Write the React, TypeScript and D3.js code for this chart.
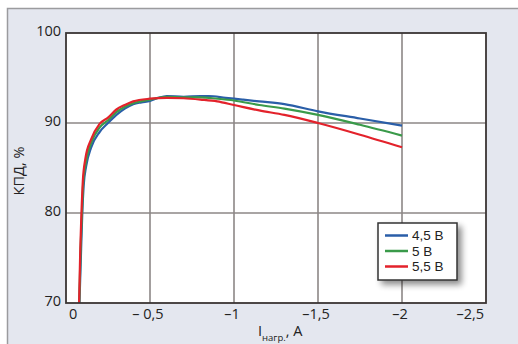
import { useMemo } from "react";
import * as d3 from "d3";

type Pt = [number, number];

// КПД vs load current (current as magnitude, A)
const curve45: Pt[] = [
  [0.08, 70], [0.09, 76], [0.097, 80], [0.105, 83], [0.12, 85.2], [0.15, 87.3],
  [0.2, 89.0], [0.25, 90.0], [0.3, 90.9], [0.35, 91.6], [0.4, 92.1], [0.45, 92.3],
  [0.5, 92.45], [0.55, 92.8], [0.6, 93.0], [0.7, 92.9], [0.8, 93.0], [0.85, 93.0],
  [0.95, 92.8], [1.05, 92.6], [1.15, 92.4], [1.3, 92.1], [1.5, 91.3], [1.75, 90.5],
  [2.0, 89.7],
];
const curve5: Pt[] = [
  [0.079, 70], [0.087, 76], [0.095, 80], [0.102, 83.2], [0.118, 85.6], [0.15, 87.8],
  [0.2, 89.5], [0.25, 90.3], [0.3, 91.2], [0.35, 91.8], [0.4, 92.2], [0.5, 92.6],
  [0.6, 92.9], [0.7, 92.85], [0.8, 92.85], [0.9, 92.7], [1.0, 92.5], [1.15, 92.0],
  [1.3, 91.6], [1.5, 90.9], [1.75, 89.8], [2.0, 88.6],
];
const curve55: Pt[] = [
  [0.078, 70], [0.085, 76], [0.092, 80], [0.1, 83.5], [0.115, 86], [0.15, 88.2],
  [0.2, 89.9], [0.25, 90.6], [0.3, 91.5], [0.35, 92.0], [0.4, 92.4], [0.5, 92.7],
  [0.6, 92.8], [0.7, 92.75], [0.8, 92.6], [0.9, 92.4], [1.0, 92.0], [1.15, 91.4],
  [1.3, 90.9], [1.5, 90.0], [1.75, 88.7], [2.0, 87.3],
];

const series = [
  { label: "4,5 В", color: "#2a5ea8", data: curve45 },
  { label: "5 В", color: "#3a9a4a", data: curve5 },
  { label: "5,5 В", color: "#e3222b", data: curve55 },
];

const xTickValues = [0, 0.5, 1, 1.5, 2, 2.5];
const xTickLabels = ["0", "– 0,5", "–1", "–1,5", "–2", "–2,5"];
const yTickValues = [70, 80, 90, 100];

const FONT = "'Open Sans', sans-serif";
const LEGEND_FONT = "'Liberation Sans', Arial, sans-serif";

export default function App() {
  const width = 518;
  const height = 344;
  const margin = { top: 33, right: 32, bottom: 41, left: 66 };
  const innerWidth = width - margin.left - margin.right;
  const innerHeight = height - margin.top - margin.bottom;

  const xScale = useMemo(
    () => d3.scaleLinear().domain([0, 2.5]).range([0, innerWidth]),
    [innerWidth]
  );
  const yScale = useMemo(
    () => d3.scaleLinear().domain([70, 100]).range([innerHeight, 0]),
    [innerHeight]
  );

  const line = d3
    .line<Pt>()
    .x((d) => xScale(d[0]))
    .y((d) => yScale(d[1]))
    .curve(d3.curveMonotoneX);

  const legend = { x: 378 - margin.left, y: 223 - margin.top, w: 79, h: 57 };

  return (
    <div style={{ position: "absolute", left: 0, top: 0 }}>
      <svg width={width} height={height} style={{ display: "block" }}>
        <defs>
          <filter id="shadow" x="-20%" y="-20%" width="150%" height="160%">
            <feGaussianBlur in="SourceAlpha" stdDeviation="3" />
            <feOffset dx="4" dy="4" result="blur" />
            <feComponentTransfer>
              <feFuncA type="linear" slope="0.45" />
            </feComponentTransfer>
            <feMerge>
              <feMergeNode />
              <feMergeNode in="SourceGraphic" />
            </feMerge>
          </filter>
        </defs>

        <rect width={width} height={height} fill="#ffffff" />
        {/* outer panel */}
        <rect
          x={7.5}
          y={8.5}
          width={width + 10}
          height={height + 10}
          fill="#e4e7ef"
          stroke="#9b9b9e"
          strokeWidth={1.5}
        />

        <g transform={`translate(${margin.left}, ${margin.top})`}>
          <rect width={innerWidth} height={innerHeight} fill="#ffffff" />

          {/* grid */}
          {xTickValues.slice(1, -1).map((v) => (
            <line
              key={`gx${v}`}
              x1={xScale(v)}
              x2={xScale(v)}
              y1={0}
              y2={innerHeight}
              stroke="#8c8786"
              strokeWidth={1.6}
            />
          ))}
          {yTickValues.slice(1, -1).map((v) => (
            <line
              key={`gy${v}`}
              x1={0}
              x2={innerWidth}
              y1={yScale(v)}
              y2={yScale(v)}
              stroke="#8c8786"
              strokeWidth={1.6}
            />
          ))}

          {/* curves */}
          {series.map((s) => (
            <path
              key={s.label}
              d={line(s.data) || ""}
              fill="none"
              stroke={s.color}
              strokeWidth={2.2}
              strokeLinejoin="round"
            />
          ))}

          {/* frame */}
          <rect
            width={innerWidth}
            height={innerHeight}
            fill="none"
            stroke="#3a3534"
            strokeWidth={1.8}
          />

          {/* y ticks */}
          {yTickValues.map((v) => (
            <text
              key={`ty${v}`}
              x={-5}
              y={yScale(v) - 1}
              textAnchor="end"
              dominantBaseline="middle"
              fontFamily={FONT}
              fontSize={14.5}
              fill="#222"
            >
              {v}
            </text>
          ))}

          {/* x ticks */}
          {xTickValues.map((v, i) => (
            <text
              key={`tx${v}`}
              x={i === 0 ? xScale(v) + 3 : xScale(v) - 2}
              y={innerHeight + 16}
              textAnchor={i === xTickValues.length - 1 ? "end" : i === 0 ? "start" : "middle"}
              fontFamily={FONT}
              fontSize={14.5}
              fill="#222"
            >
              {xTickLabels[i]}
            </text>
          ))}

          {/* axis titles */}
          <text
            transform={`translate(${20 - margin.left}, ${171 - margin.top}) rotate(-90)`}
            textAnchor="middle"
            dominantBaseline="middle"
            fontFamily={FONT}
            fontSize={14.5}
            fill="#222"
          >
            КПД, %
          </text>
          <text
            x={258 - margin.left}
            y={336 - margin.top}
            fontFamily={FONT}
            fontSize={14.5}
            fill="#222"
          >
            I
            <tspan fontSize={9.5} dy={5}>нагр.</tspan>
            <tspan dy={-5}>, A</tspan>
          </text>

          {/* legend */}
          <g transform={`translate(${legend.x}, ${legend.y})`}>
            <rect
              width={legend.w}
              height={legend.h}
              fill="#ffffff"
              stroke="#333"
              strokeWidth={1.5}
              filter="url(#shadow)"
            />
            {series.map((s, i) => (
              <g key={s.label} transform={`translate(0, ${12.5 + i * 15.5})`}>
                <line x1={7} x2={30} y1={0} y2={0} stroke={s.color} strokeWidth={2.5} />
                <text
                  x={34}
                  y={0}
                  dominantBaseline="central"
                  fontFamily={LEGEND_FONT}
                  fontSize={13.5}
                  fill="#222"
                >
                  {s.label}
                </text>
              </g>
            ))}
          </g>
        </g>
      </svg>
    </div>
  );
}
